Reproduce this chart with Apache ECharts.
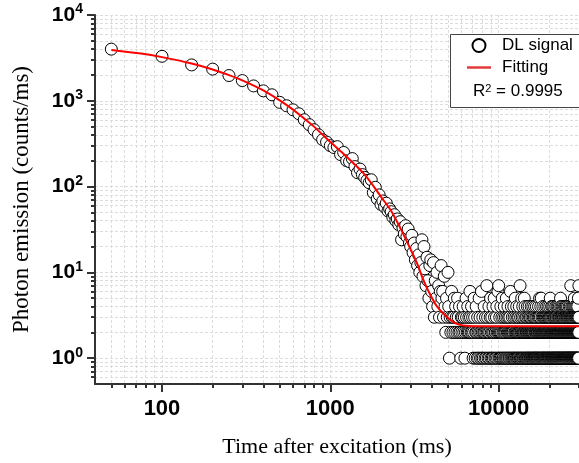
<!DOCTYPE html>
<html><head><meta charset="utf-8">
<script src="https://cdn.jsdelivr.net/npm/echarts@6/dist/echarts.min.js"></script>
<style>html,body{margin:0;padding:0;background:#fff}#c{width:579px;height:463px}</style>
</head><body><div id="c"></div>
<script>
// ---- data ----
const firstTime = 50;      // ms, first sample
const timeStep = 50;       // ms between samples
// DL signal (counts/ms), one value per 50 ms bin
const signalDecay = [
  4000, 3300, 2620, 2340, 1970, 1720, 1490, 1306, 1175, 960,
  875, 785, 706, 601, 526, 460, 402, 352, 330, 300,
  285, 292, 236, 250, 200, 195, 212, 171, 145, 160,
  138, 128, 118, 111, 120, 85, 98, 72, 80, 62,
  68, 58, 64, 52, 55, 51, 44, 47, 40, 42,
  36, 39, 24, 33, 28, 35, 26, 32, 22, 20,
  27, 17, 22, 14, 19, 12, 16, 10, 13, 24,
  9, 20, 11, 7, 15, 8, 5, 12, 14, 6,
  4, 13, 3, 8, 5, 10, 4, 7, 3, 6,
  12, 5, 6, 3, 9, 4, 2, 5, 3, 10
];
const signalFloor = [
  4,1,3,2,6,3,2,3,5,2,4,3,2,5,3,2,4,2,1,3,
  2,3,4,2,3,1,2,5,3,2,4,2,3,2,6,3,2,4,2,3,
  1,2,5,3,1,2,4,2,1,3,2,1,5,2,3,1,2,6,1,2,
  3,1,2,4,2,1,3,2,1,7,2,3,1,2,4,1,2,3,5,1,
  2,3,1,2,4,1,2,5,3,1,2,2,1,3,4,2,1,6,2,7,
  1,2,3,1,2,4,1,2,3,5,1,2,1,3,2,4,1,2,3,1,
  2,5,1,3,2,1,4,2,3,1,2,1,3,2,6,1,2,4,1,2,
  3,1,2,2,1,4,3,1,2,1,5,2,3,1,2,4,1,2,3,1,
  2,1,3,2,4,1,2,7,1,3,2,1,2,5,1,3,2,4,1,2,
  1,3,2,5,1,2,4,1,3,2,1,2,3,1,2,4,1,2,3,1,
  2,1,4,2,3,1,2,1,3,2,1,4,2,1,3,2,1,2,4,1,
  3,2,1,2,1,3,4,1,2,1,2,3,1,2,4,1,3,2,1,2,
  1,2,3,1,4,2,1,3,2,5,1,2,1,3,2,4,1,5,2,1,
  2,3,1,2,1,4,2,3,1,2,1,2,3,1,2,4,1,3,2,1,
  2,1,3,2,4,1,2,1,3,2,1,2,4,1,3,2,1,2,3,1,
  2,4,1,3,5,2,1,2,3,1,2,4,1,2,3,1,2,1,4,2,
  1,3,2,1,2,4,1,3,2,1,2,3,1,2,1,4,2,3,1,2,
  3,1,2,4,1,2,1,3,2,1,4,2,1,3,2,1,2,3,4,1,
  2,1,3,2,1,5,2,4,1,3,2,1,2,3,1,4,2,1,3,2,
  1,2,4,1,3,2,1,2,3,1,2,4,1,2,1,3,2,1,4,2,
  3,1,2,1,4,2,3,1,2,1,3,2,4,1,2,1,3,2,1,2,
  1,3,2,4,1,2,1,3,2,1,2,4,3,1,2,7,1,2,3,1,
  2,1,4,2,3,1,2,1,3,2,4,1,2,3,1,2,1,4,2,1,
  3,2,5,1,2,4,1,3,2,1,2,3,1,4,2,1,2,3,1,2,
  1,4,2,3,1,2,1,3,2,4,1,2,1,3,5,2,1,2,7,3
];
// fitted curve
const fitTimes  = [50,75,100,150,200,250,300,400,500,600,700,800,1000,1200,1400,1600,1800,2000,2300,2600,3000,3300,3500,3850,4300,4850,5550,6400,8000,12000,30000];
const fitValues = [3920,3560,3230,2720,2320,1990,1730,1320,1010,790,620,500,330,240,180,138,102,76,52,33,18.5,12.3,9,5.9,4.0,3.1,2.55,2.39,2.35,2.35,2.35];
// axes
const xMajorTicks = [100, 1000, 10000];
const xMinorTicks = [50,60,70,80,90,100,200,300,400,500,600,700,800,900,1000,2000,3000,4000,5000,6000,7000,8000,9000,10000,20000,30000];
const yMajorTicks = [1, 10, 100, 1000, 10000];
const yMinorTicks = [0.6,0.7,0.8,0.9,1,2,3,4,5,6,7,8,9,10,20,30,40,50,60,70,80,90,100,200,300,400,500,600,700,800,900,1000,2000,3000,4000,5000,6000,7000,8000,9000,10000];
const rSquared = '0.9995';

// ---- chart ----
const signal = signalDecay.concat(signalFloor);
const scatterData = signal.map((v, i) => [firstTime + i * timeStep, v]);
const fitData = fitTimes.map((t, i) => [t, fitValues[i]]);

const axisColor = '#333';
const gridColor = '#dcdcdc';
const sans = "'Liberation Sans', Arial, sans-serif";
const serif = "'Liberation Serif', 'Times New Roman', serif";

const chart = echarts.init(document.getElementById('c'), null, {renderer: 'canvas'});
chart.setOption({
  animation: false,
  backgroundColor: '#fff',
  grid: {left: 95, top: 15, width: 486, height: 370, containLabel: false},
  xAxis: [{
    type: 'log', logBase: 10, min: 40, max: 30000, position: 'bottom',
    name: 'Time after excitation (ms)', nameLocation: 'middle', nameGap: 52,
    nameTextStyle: {fontFamily: serif, fontSize: 22, color: '#000'},
    axisLine: {show: true, lineStyle: {color: axisColor, width: 2}},
    axisTick: {show: true, length: 8, inside: false, customValues: xMajorTicks, lineStyle: {color: axisColor, width: 2}},
    axisLabel: {show: true, customValues: xMajorTicks, margin: 14, formatter: v => String(Math.round(v)),
      fontFamily: sans, fontWeight: 'bold', fontSize: 22, color: '#000'},
    splitLine: {show: false}, minorTick: {show: false}
  }, {
    type: 'log', logBase: 10, min: 40, max: 30000, position: 'bottom',
    axisLine: {show: false},
    axisTick: {show: true, length: 4, inside: false, customValues: xMinorTicks, lineStyle: {color: axisColor, width: 2}},
    axisLabel: {show: false},
    splitLine: {show: true, lineStyle: {color: gridColor, type: [3, 2], width: 1}}
  }],
  yAxis: [{
    type: 'log', logBase: 10, min: 0.5, max: 10000, position: 'left',
    name: 'Photon emission (counts/ms)', nameLocation: 'middle', nameGap: 62,
    nameTextStyle: {fontFamily: serif, fontSize: 23, color: '#000'},
    axisLine: {show: true, lineStyle: {color: axisColor, width: 2}},
    axisTick: {show: true, length: 8, inside: false, customValues: yMajorTicks, lineStyle: {color: axisColor, width: 2}},
    axisLabel: {
      show: true, customValues: yMajorTicks, margin: 12,
      formatter: v => '{b|10}{s|' + Math.round(Math.log10(v)) + '}',
      rich: {
        b: {fontFamily: sans, fontWeight: 'bold', fontSize: 21, color: '#000', lineHeight: 25},
        s: {fontFamily: sans, fontWeight: 'bold', fontSize: 14, color: '#000', verticalAlign: 'top', lineHeight: 14}
      }
    },
    splitLine: {show: false}
  }, {
    type: 'log', logBase: 10, min: 0.5, max: 10000, position: 'left',
    axisLine: {show: false},
    axisTick: {show: true, length: 4, inside: false, customValues: yMinorTicks, lineStyle: {color: axisColor, width: 2}},
    axisLabel: {show: false},
    splitLine: {show: true, lineStyle: {color: gridColor, type: [3, 2], width: 1}}
  }],
  legend: {
    orient: 'vertical', left: 467, top: 37, padding: 0,
    itemWidth: 24, itemHeight: 13, itemGap: 5,
    textStyle: {fontFamily: sans, fontSize: 17, color: '#000', padding: [0, 0, 0, 6]},
    data: [
      {name: 'DL signal', icon: 'circle'},
      {name: 'Fitting', icon: 'path://M0,0H24V2.5H0Z', itemStyle: {color: '#e23a3a'}}
    ]
  },
  graphic: [
    {type: 'rect', z: 3, shape: {x: 450.5, y: 34.5, width: 140, height: 73}, style: {fill: '#fff', stroke: '#444', lineWidth: 1}},
    {type: 'text', z: 5, left: 473, top: 83, style: {
      text: 'R{s|2} = ' + rSquared,
      font: '17px ' + sans, fill: '#000',
      rich: {s: {fontFamily: sans, fontSize: 11, verticalAlign: 'top', lineHeight: 11}}
    }}
  ],
  series: [{
    name: 'DL signal', type: 'scatter', xAxisIndex: 0, yAxisIndex: 0,
    data: scatterData, symbol: 'circle', symbolSize: 12, z: 2,
    itemStyle: {color: '#fff', borderColor: '#000', borderWidth: 1, opacity: 1}
  }, {
    name: 'Fitting', type: 'line', xAxisIndex: 0, yAxisIndex: 0,
    data: fitData, showSymbol: false, symbol: 'none', smooth: 0.25, z: 3,
    lineStyle: {color: '#ff0000', width: 2}, itemStyle: {color: '#ff0000'}
  }]
});
</script></body></html>
